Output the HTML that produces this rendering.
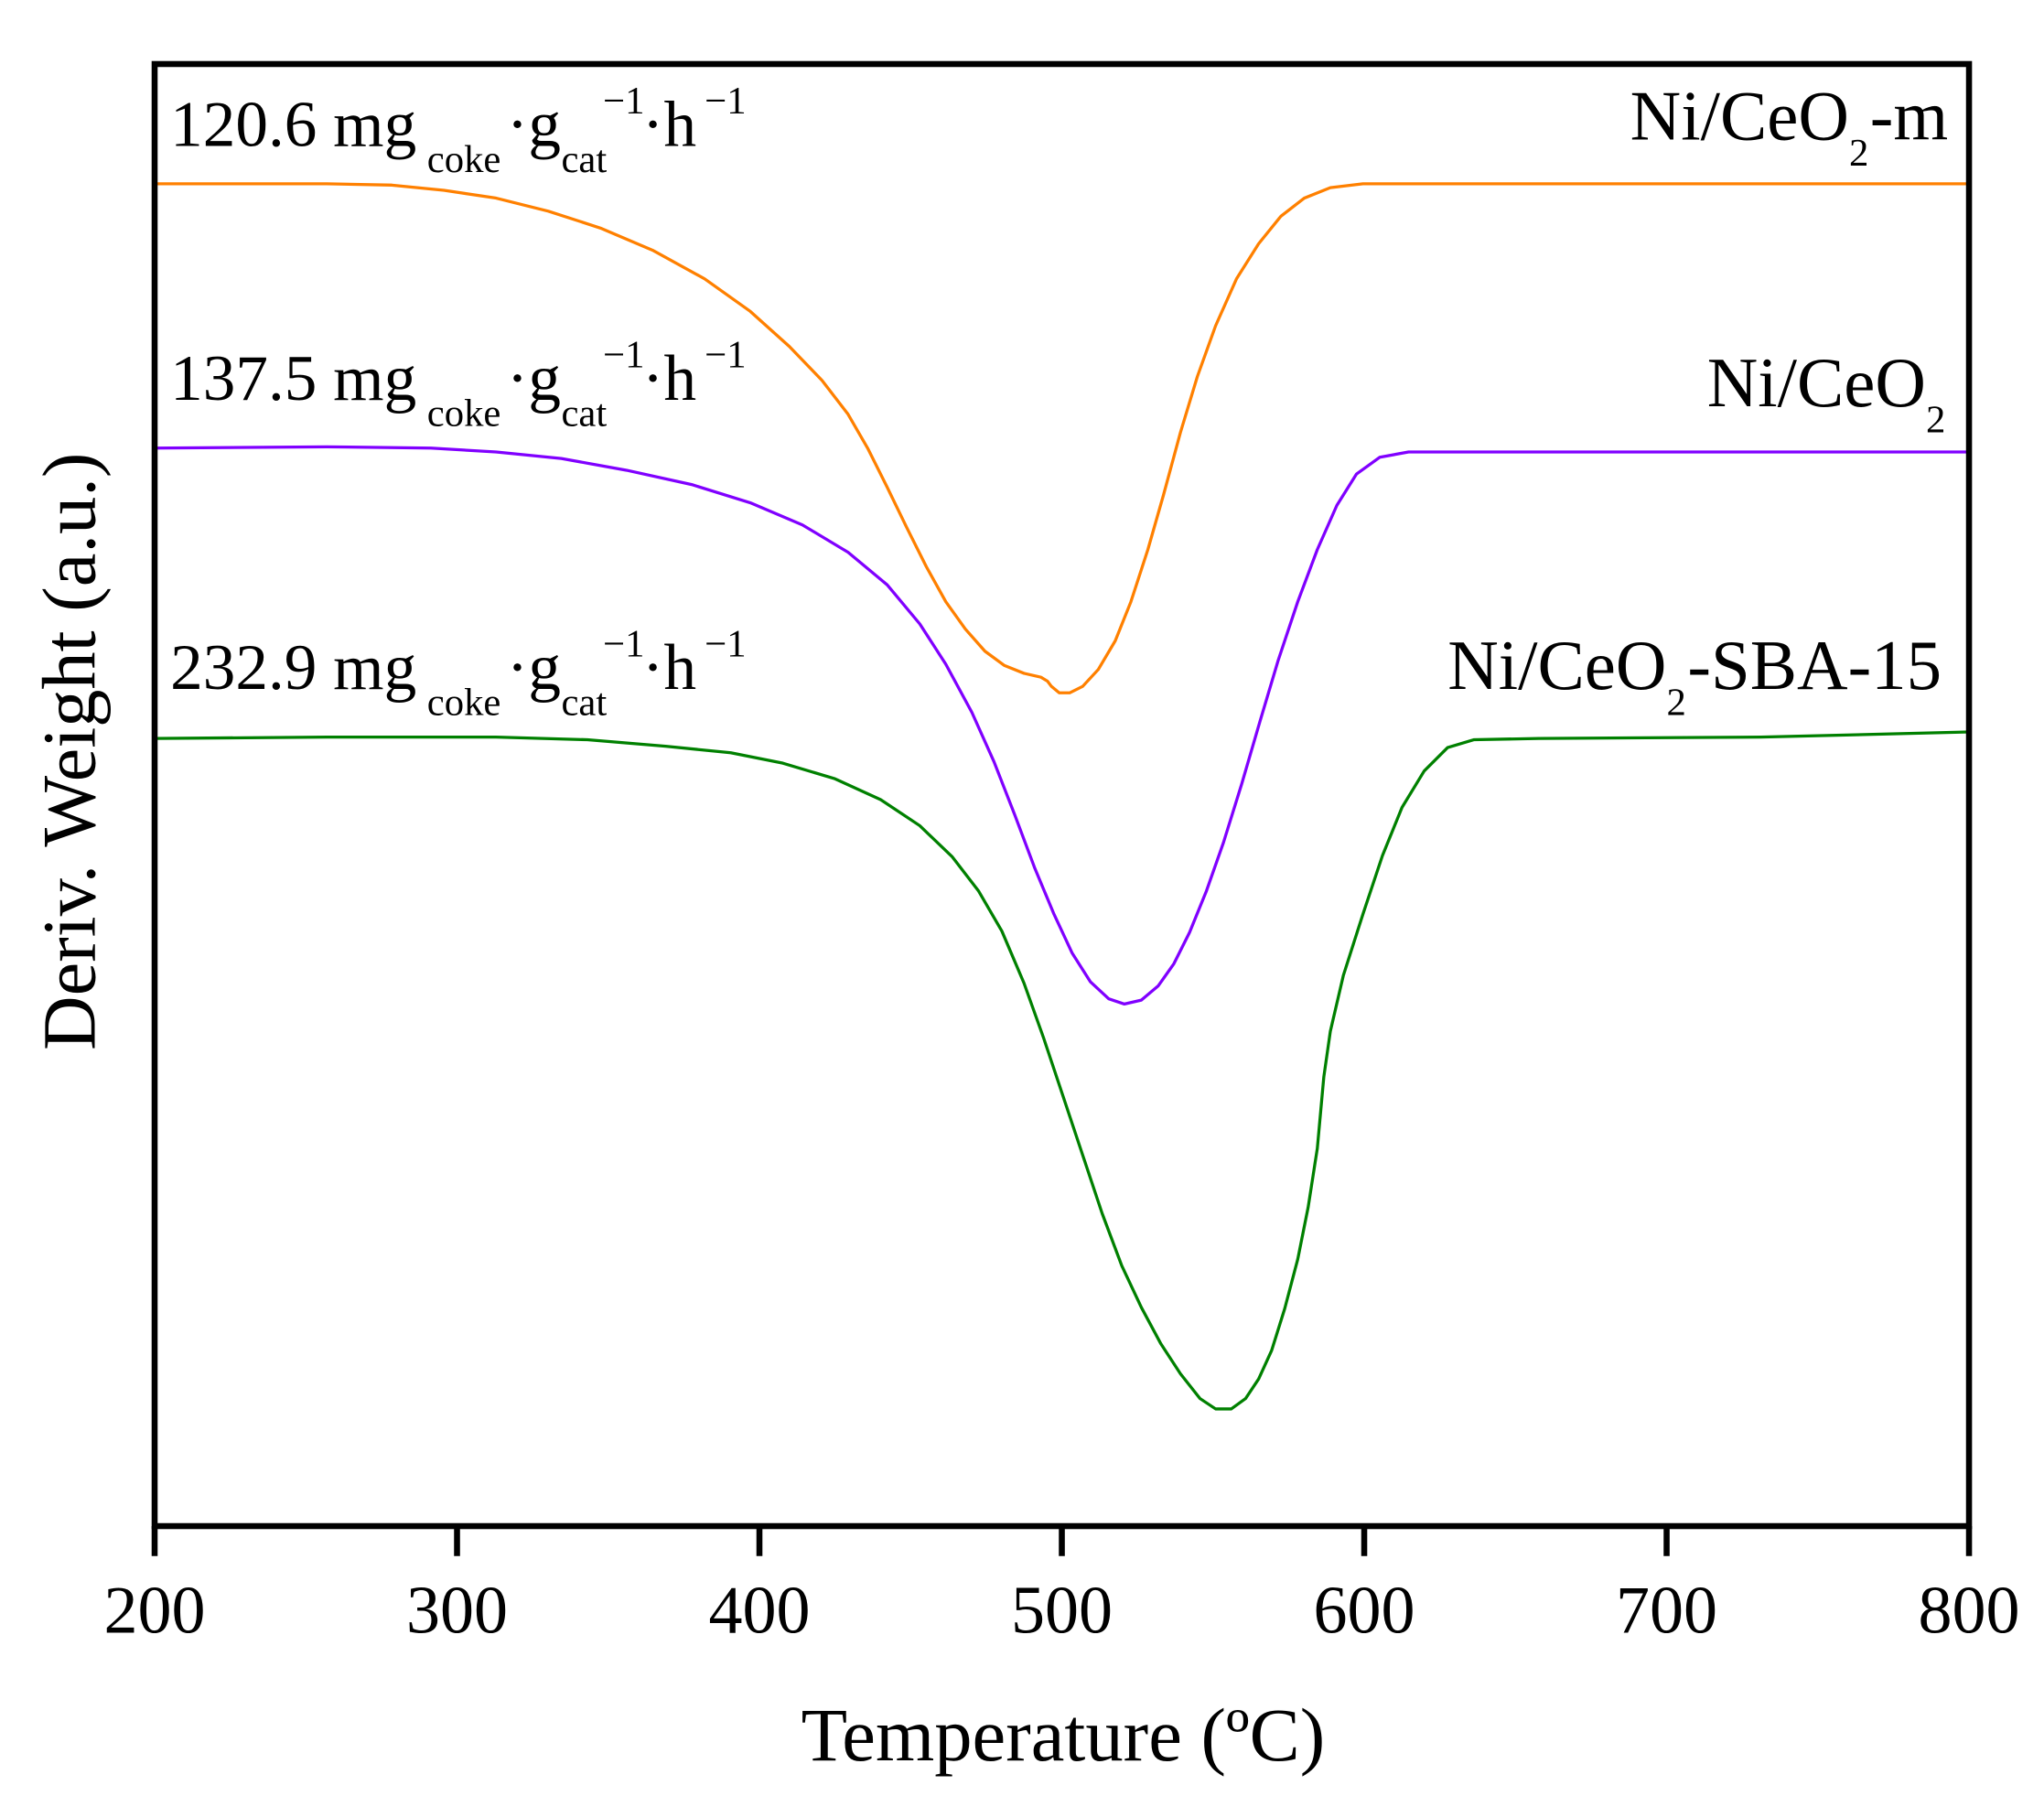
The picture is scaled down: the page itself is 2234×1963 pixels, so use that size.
<!DOCTYPE html>
<html><head><meta charset="utf-8"><style>
html,body{margin:0;padding:0;background:#fff;}
svg{display:block;}
text{font-family:"Liberation Serif","Times New Roman",serif;fill:#000;}
</style></head><body>
<svg width="2234" height="1963" viewBox="0 0 2234 1963" xmlns="http://www.w3.org/2000/svg">
<g transform="translate(0.9,3.1) scale(1.4246,1.423)">
<g fill="none" stroke-linejoin="round" stroke-linecap="round">
<polyline stroke="#FF8000" stroke-width="2.3" points="118,139 250,139 300,140 340,144 380,150 420,160 460,173 500,190 540,212 575,237 605,264 630,290 650,316 665,342 680,372 695,403 710,433 725,460 740,481 755,498 770,509 785,515 798,518 803,521 806,525 812,530 820,530 830,525 842,512 855,490 867,460 880,420 892,378 905,330 918,287 932,248 948,212 965,185 982,164 1000,150 1020,142 1045,139 1510,139"/>
<polyline stroke="#8000FF" stroke-width="2.3" points="118,342 250,341 330,342 380,345 430,350 480,359 530,370 575,384 615,401 650,422 680,447 705,477 725,508 745,545 762,583 778,624 793,664 808,700 822,730 836,752 850,765 862,769 875,766 888,755 900,738 912,714 925,682 938,645 952,600 966,552 980,505 995,460 1010,420 1025,386 1040,362 1058,349 1080,345 1110,345 1510,345"/>
<polyline stroke="#008000" stroke-width="2.3" points="118,565 250,564 380,564 450,566 510,571 560,576 600,584 640,596 675,612 705,632 730,656 750,682 768,713 785,753 800,795 815,840 830,885 845,930 860,970 875,1002 890,1030 905,1053 920,1072 932,1080 944,1080 955,1072 965,1057 975,1035 985,1003 995,965 1003,925 1010,880 1015,825 1020,790 1030,747 1045,700 1060,655 1075,618 1092,590 1110,572 1130,566 1180,565 1350,564 1510,560"/>
</g>
<g stroke="#000" stroke-width="4.6" fill="none">
<rect x="118" y="47" width="1392" height="1123"/>
<path d="M118,1170V1193M350,1170V1193M582,1170V1193M814,1170V1193M1046,1170V1193M1278,1170V1193M1510,1170V1193"/>
</g>
<g font-size="52" text-anchor="middle">
<text x="118" y="1252">200</text><text x="350" y="1252">300</text><text x="582" y="1252">400</text>
<text x="814" y="1252">500</text><text x="1046" y="1252">600</text><text x="1278" y="1252">700</text><text x="1510" y="1252">800</text>
</g>
<text x="815" y="1350" font-size="58" text-anchor="middle">Temperature (ºC)</text>
<text transform="translate(72,575) rotate(-90)" font-size="58" text-anchor="middle">Deriv. Weight (a.u.)</text>

<g font-size="50">
<text x="130" y="110">120.6 mg</text><text x="327" y="130" font-size="30">coke</text><text x="388" y="110">·g</text><text x="430" y="130" font-size="30">cat</text><text x="462" y="85" font-size="30">−1</text><text x="492" y="110">·h</text><text x="540" y="85" font-size="30">−1</text>
<text x="130" y="305">137.5 mg</text><text x="327" y="325" font-size="30">coke</text><text x="388" y="305">·g</text><text x="430" y="325" font-size="30">cat</text><text x="462" y="280" font-size="30">−1</text><text x="492" y="305">·h</text><text x="540" y="280" font-size="30">−1</text>
<text x="130" y="527">232.9 mg</text><text x="327" y="547" font-size="30">coke</text><text x="388" y="527">·g</text><text x="430" y="547" font-size="30">cat</text><text x="462" y="502" font-size="30">−1</text><text x="492" y="527">·h</text><text x="540" y="502" font-size="30">−1</text>
</g>
<g font-size="54">
<text x="1250" y="105">Ni/CeO</text><text x="1418" y="125" font-size="30">2</text><text x="1434" y="105">-m</text>
<text x="1309" y="310">Ni/CeO</text><text x="1477" y="330" font-size="30">2</text>
<text x="1110" y="527">Ni/CeO</text><text x="1278" y="547" font-size="30">2</text><text x="1294" y="527">-SBA-15</text>
</g>
</g>
</svg>
</body></html>
